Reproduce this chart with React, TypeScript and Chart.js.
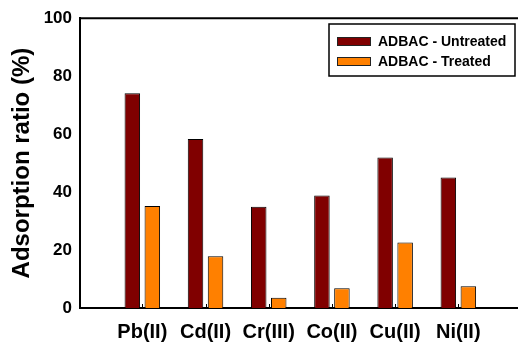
import React, { useEffect, useRef } from "react";
import { Chart, registerables } from "chart.js";

Chart.register(...registerables);

const categories = ["Pb(II)", "Cd(II)", "Cr(III)", "Co(II)", "Cu(II)", "Ni(II)"];
const untreated = [74.1, 58.3, 34.9, 38.8, 51.9, 45.0];
const treated = [35.2, 17.9, 3.5, 6.8, 22.6, 7.5];
const seriesNames = ["ADBAC - Untreated", "ADBAC - Treated"];
const seriesColors = ["#800000", "#FF8000"];
const yTicks = [0, 20, 40, 60, 80, 100];

const FONT = "'Liberation Sans', Arial, Helvetica, sans-serif";

const framePlugin = {
  id: "frame",
  afterDraw(chart: any) {
    const { ctx, chartArea } = chart;
    const { left, right, top, bottom } = chartArea;
    ctx.save();
    // keep the right side of the frame open, as in the reference
    ctx.fillStyle = "#fff";
    ctx.fillRect(right - 3, top + 2, 3, bottom - top - 3);
    ctx.strokeStyle = "#000";
    ctx.lineWidth = 2;
    ctx.beginPath();
    ctx.moveTo(left - 1, top);
    ctx.lineTo(right, top);
    ctx.stroke();
    const xs = chart.scales.x;
    ctx.lineWidth = 1;
    for (let i = 0; i < categories.length; i++) {
      const px = Math.round(xs.getPixelForValue(i + 1)) + 0.5;
      ctx.beginPath();
      ctx.moveTo(px, bottom);
      ctx.lineTo(px, bottom - 4);
      ctx.stroke();
    }
    const bx = 329, by = 24, bw = 186, bh = 52;
    ctx.fillStyle = "#fff";
    ctx.fillRect(bx, by, bw, bh);
    ctx.lineWidth = 1.5;
    ctx.strokeRect(bx, by, bw, bh);
    ctx.font = `bold 14px ${FONT}`;
    ctx.textBaseline = "middle";
    ctx.textAlign = "left";
    for (let i = 0; i < seriesNames.length; i++) {
      const cy = 41 + i * 20;
      ctx.fillStyle = seriesColors[i];
      ctx.fillRect(337, cy - 4, 33, 8);
      ctx.lineWidth = 1;
      ctx.strokeStyle = "#222";
      ctx.strokeRect(337.5, cy - 3.5, 33, 8);
      ctx.fillStyle = "#000";
      ctx.fillText(seriesNames[i], 378, cy + 1);
    }
    ctx.restore();
  },
};

export default function App() {
  const ref = useRef<HTMLCanvasElement | null>(null);
  useEffect(() => {
    if (!ref.current) return;
    const chart = new Chart(ref.current, {
      type: "bar",
      data: {
        datasets: [
          {
            label: seriesNames[0],
            data: categories.map((_, i) => ({ x: i + 1, y: untreated[i] })) as any,
            backgroundColor: seriesColors[0],
            borderColor: "#000",
            borderWidth: 1,
          },
          {
            label: seriesNames[1],
            data: categories.map((_, i) => ({ x: i + 1, y: treated[i] })) as any,
            backgroundColor: seriesColors[1],
            borderColor: "#000",
            borderWidth: 1,
          },
        ],
      },
      options: {
        responsive: false,
        animation: false,
        devicePixelRatio: 1,
        layout: { padding: { top: 17, right: 0, left: 0, bottom: 0 } },
        datasets: {
          bar: { categoryPercentage: 0.633, barPercentage: 0.775 },
        },
        plugins: {
          legend: { display: false },
          tooltip: { enabled: false },
        },
        scales: {
          x: {
            type: "linear",
            min: 0.014,
            max: 6.944,
            offset: false,
            afterBuildTicks(scale: any) {
              scale.ticks = categories.map((_, i) => ({ value: i + 1 }));
            },
            grid: { display: false, drawTicks: false },
            border: { display: true, color: "#000", width: 2 },
            ticks: {
              autoSkip: false,
              maxRotation: 0,
              padding: 12,
              color: "#000",
              font: { family: FONT, size: 20, weight: "bold" },
              callback: (v: any) => categories[Math.round(v) - 1] ?? "",
            },
            afterFit(scale: any) {
              scale.height = 39;
            },
          },
          y: {
            min: 0,
            max: 100,
            afterBuildTicks(scale: any) {
              scale.ticks = yTicks.map((v) => ({ value: v }));
            },
            grid: { display: false, drawTicks: false },
            border: { display: true, color: "#000", width: 2 },
            ticks: {
              padding: 8,
              color: "#000",
              font: { family: FONT, size: 17, weight: "bold" },
            },
            title: {
              display: true,
              text: "Adsorption ratio (%)",
              color: "#000",
              font: { family: FONT, size: 24, weight: "bold", lineHeight: 1.5 },
            },
            afterFit(scale: any) {
              scale.width = 80;
            },
          },
        },
      },
      plugins: [framePlugin],
    });
    return () => chart.destroy();
  }, []);
  return (
    <div
      style={{
        position: "fixed",
        left: 0,
        top: 0,
        width: 518,
        height: 347,
        overflow: "hidden",
        background: "#fff",
      }}
    >
      <canvas ref={ref} width={518} height={347} style={{ display: "block", width: 518, height: 347 }} />
    </div>
  );
}
